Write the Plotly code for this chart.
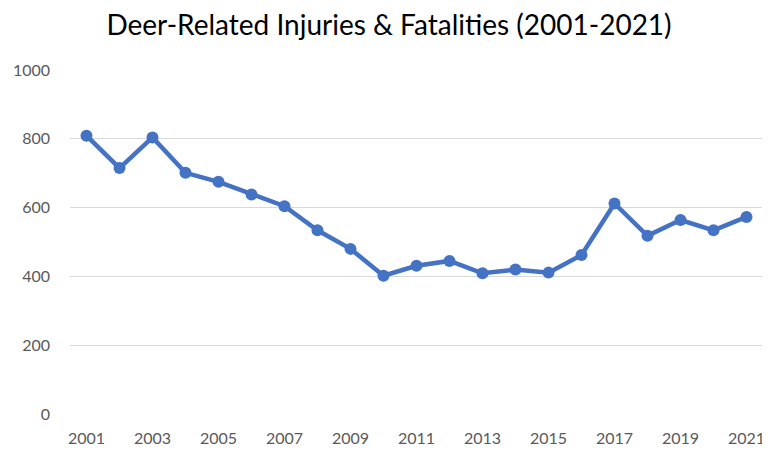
import plotly.graph_objects as go

years = list(range(2001, 2022))
values = [809, 715, 804, 701, 675, 638, 604, 534, 480, 402, 431, 445, 409, 420, 411, 462, 612, 518, 564, 534, 573]
tick_years = list(range(2001, 2022, 2))
y_ticks = [0, 200, 400, 600, 800, 1000]

fig = go.Figure(go.Scatter(
    x=years, y=values, mode="lines+markers",
    line=dict(color="#4472C4", width=4.5),
    marker=dict(color="#4472C4", size=12),
    hoverinfo="x+y",
))

# page body has an 8px default margin, so size the figure to fit the window
fig.update_layout(
    width=762, height=444,
    margin=dict(l=55, r=5, t=62, b=34),
    paper_bgcolor="white", plot_bgcolor="white",
    showlegend=False,
    title=dict(text="Deer-Related Injuries & Fatalities (2001-2021)",
               x=0.5, xanchor="center", y=0.962, yanchor="middle",
               font=dict(family="Lato, Open Sans, sans-serif", size=28, color="#000000")),
    font=dict(family="Lato, Open Sans, sans-serif", size=16, color="#595959"),
)
fig.update_xaxes(range=[2000.5, 2021.5], tickvals=tick_years, showgrid=False,
                 zeroline=False, showline=False, ticks="", ticklabelstandoff=13)
fig.update_yaxes(range=[0, 1000], tickvals=y_ticks, showgrid=True, gridcolor="#D9D9D9",
                 gridwidth=1.3, zeroline=False, showline=False, ticks="", ticklabelstandoff=19)

fig.write_html("out.html")
